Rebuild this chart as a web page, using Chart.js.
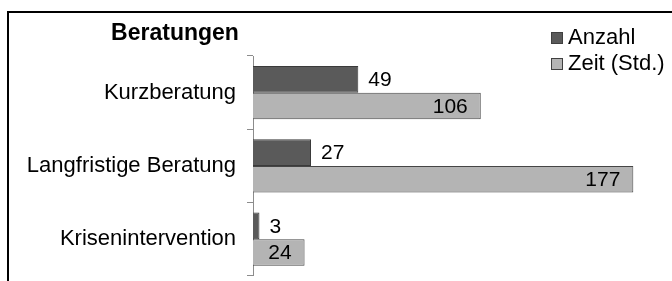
<!DOCTYPE html>
<html>
<head>
<meta charset="utf-8">
<script src="https://cdn.jsdelivr.net/npm/chart.js@4/dist/chart.umd.min.js"></script>
<style>
  html, body { margin: 0; padding: 0; overflow: hidden; background: #fff; }
  #frame { position: absolute; left: 7px; top: 11px; width: 800px; height: 400px; border: 2px solid #000; }
  #wrap { position: absolute; left: 0; top: 0; width: 672px; height: 300px; }
</style>
</head>
<body>
<div id="frame"></div>
<div id="wrap"><canvas id="chartBeratungen"></canvas></div>
<script>
  let categories = ['Kurzberatung', 'Langfristige Beratung', 'Krisenintervention'];
  let anzahl = [49, 27, 3];
  let zeit = [106, 177, 24];
  let seriesNames = ['Anzahl', 'Zeit (Std.)'];
  let chartTitle = 'Beratungen';

  const FONT = '"Liberation Sans", Arial, sans-serif';

  // value labels next to / inside the bars
  const valueLabels = {
    id: 'valueLabels',
    afterDatasetsDraw(chart) {
      const c = chart.ctx;
      c.save();
      c.font = '21px ' + FONT;
      c.fillStyle = '#000';
      c.textBaseline = 'middle';
      chart.data.datasets.forEach((ds, i) => {
        chart.getDatasetMeta(i).data.forEach((bar, j) => {
          if (i === 0) {
            c.textAlign = 'left';
            c.fillText(ds.data[j], bar.x + 10, bar.y + 1);
          } else {
            c.textAlign = 'right';
            c.fillText(ds.data[j], bar.x - 13, bar.y + 1);
          }
        });
      });
      c.restore();
    }
  };

  // title and legend in the spots of the original
  const titleLegend = {
    id: 'titleLegend',
    afterDraw(chart) {
      const c = chart.ctx;
      c.save();
      c.fillStyle = '#000';
      c.font = 'bold 23px ' + FONT;
      c.textAlign = 'center';
      c.textBaseline = 'middle';
      c.fillText(chartTitle, 175, 34);

      c.font = '22px ' + FONT;
      c.textAlign = 'left';
      chart.data.datasets.forEach((ds, i) => {
        let y = 38 + i * 26;
        c.fillStyle = ds.backgroundColor;
        c.fillRect(551.5, y - 5.5, 11, 11);
        c.strokeStyle = '#404040';
        c.lineWidth = 1;
        c.strokeRect(551.5, y - 5.5, 11, 11);
        c.fillStyle = '#000';
        c.fillText(ds.label, 568, y);
      });
      c.restore();
    }
  };

  const ctx = document.getElementById('chartBeratungen').getContext('2d');

  new Chart(ctx, {
    type: 'bar',
    data: {
      labels: categories,
      datasets: [{
        label: seriesNames[0],
        data: anzahl,
        backgroundColor: '#5a5a5a',
        borderColor: '#3a3a3a',
        borderWidth: 1
      }, {
        label: seriesNames[1],
        data: zeit,
        backgroundColor: '#b4b4b4',
        borderColor: '#454545',
        borderWidth: 1
      }]
    },
    options: {
      indexAxis: 'y',
      responsive: true,
      maintainAspectRatio: false,
      animation: false,
      layout: {
        padding: { left: 0, right: 0, top: 56, bottom: 13 }
      },
      datasets: {
        bar: { categoryPercentage: 0.727, barPercentage: 1 }
      },
      plugins: {
        legend: { display: false },
        title: { display: false },
        tooltip: { enabled: false }
      },
      scales: {
        x: {
          display: false,
          min: 0,
          max: 195
        },
        y: {
          afterFit(scale) { scale.width = 253; },
          border: { display: true, color: '#8c8c8c', width: 1 },
          grid: {
            drawOnChartArea: false,
            tickLength: 6,
            color: '#8c8c8c'
          },
          ticks: {
            padding: 11,
            color: '#000',
            font: { family: FONT, size: 22 }
          }
        }
      }
    },
    plugins: [valueLabels, titleLegend]
  });
</script>
</body>
</html>
